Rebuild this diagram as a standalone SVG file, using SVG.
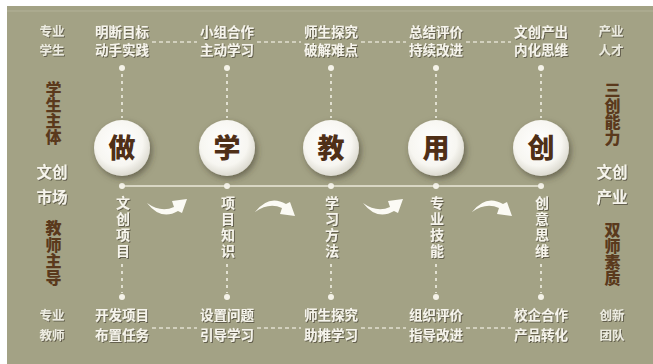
<svg xmlns="http://www.w3.org/2000/svg" width="653" height="364" viewBox="0 0 653 364">
<defs>
<style>
.t{font-family:"Liberation Sans","Noto Sans CJK SC",sans-serif;font-weight:bold;fill:#f6f4ec;text-anchor:middle;filter:url(#ts)}
.s{font-size:13.5px}
.side{font-size:12.5px;fill:#ecebe0}
.mid{font-size:15.5px}
.v{font-size:14px;writing-mode:vertical-rl;text-anchor:start;letter-spacing:2px}
.br{font-family:"Liberation Sans","Noto Sans CJK SC",sans-serif;font-weight:900;fill:#5a391c;font-size:16px;writing-mode:vertical-rl;text-anchor:start}
.ct{font-family:"Liberation Sans","Noto Sans CJK SC",sans-serif;font-weight:900;fill:#4f2f17;text-anchor:middle;font-size:27px}
.dv{stroke:#f1efe3;stroke-width:1.6;stroke-dasharray:3 4;fill:none}
.dh{stroke:#e2e0d0;stroke-width:1.3;stroke-dasharray:4 3;fill:none}
.dot{fill:#f4f2e8}
.arw{fill:#fbfaf4}
</style>
<filter id="ts" x="-20%" y="-30%" width="140%" height="160%">
<feDropShadow dx="1" dy="1" stdDeviation="0.6" flood-color="#2e2a1c" flood-opacity="0.55"/>
</filter>
<filter id="cs" x="-40%" y="-40%" width="180%" height="180%">
<feDropShadow dx="2" dy="3" stdDeviation="3" flood-color="#3b3826" flood-opacity="0.55"/>
</filter>
<radialGradient id="cg" cx="45%" cy="40%" r="60%">
<stop offset="0" stop-color="#ffffff"/>
<stop offset="0.7" stop-color="#f7f6f1"/>
<stop offset="1" stop-color="#dcdad0"/>
</radialGradient>
<path id="up" class="arw" d="M0,5 Q14,15 27,9 L25,3 L40,1 L35,15 L31,13 Q14,23 0,5 Z"/>
</defs>
<rect x="0" y="0" width="653" height="364" fill="#ffffff"/>
<rect x="7" y="6" width="646" height="358" fill="#a3a285"/>
<line x1="7" y1="11" x2="653" y2="11" stroke="#b3b298" stroke-width="1"/>

<g id="connectors">
<line x1="122" y1="186" x2="541" y2="186" stroke="#ebe9da" stroke-width="1.6"/>
<g class="dh">
<path d="M152,42 H197 M257,42 H301 M361,42 H406 M466,42 H511"/>
<path d="M152,328 H197 M257,328 H301 M361,328 H406 M466,328 H511"/>
</g>
<g class="dv">
<path d="M122,74 V118 M227,74 V118 M331,74 V118 M436,74 V118 M541,74 V118"/>
<path d="M122,264 V293 M227,264 V293 M331,264 V293 M436,264 V293 M541,264 V293"/>
</g>
<g>
<circle class="dot" cx="122" cy="68" r="3"/><circle class="dot" cx="227" cy="68" r="3"/><circle class="dot" cx="331" cy="68" r="3"/><circle class="dot" cx="436" cy="68" r="3"/><circle class="dot" cx="541" cy="68" r="3"/>
<circle class="dot" cx="122" cy="186" r="3"/><circle class="dot" cx="227" cy="186" r="3"/><circle class="dot" cx="331" cy="186" r="3"/><circle class="dot" cx="436" cy="186" r="3"/><circle class="dot" cx="541" cy="186" r="3"/>
<circle class="dot" cx="122" cy="297" r="3"/><circle class="dot" cx="227" cy="297" r="3"/><circle class="dot" cx="331" cy="297" r="3"/><circle class="dot" cx="436" cy="297" r="3"/><circle class="dot" cx="541" cy="297" r="3"/>
</g>
<use href="#up" transform="translate(147,198)"/>
<use href="#up" transform="translate(255,217) scale(1,-1)"/>
<use href="#up" transform="translate(363,198)"/>
<use href="#up" transform="translate(472,217) scale(1,-1)"/>
</g>

<g id="side-left">
<text class="t side" x="52" y="36">专业</text>
<text class="t side" x="52" y="55">学生</text>
<text class="br" x="52" y="81">学生主体</text>
<text class="t mid" x="52" y="178">文创</text>
<text class="t mid" x="52" y="203">市场</text>
<text class="br" x="52" y="220" style="letter-spacing:0.5px">教师主导</text>
<text class="t side" x="52" y="320">专业</text>
<text class="t side" x="52" y="340">教师</text>
</g>

<g id="side-right">
<text class="t side" x="611" y="36">产业</text>
<text class="t side" x="611" y="55">人才</text>
<text class="br" x="611" y="82">三创能力</text>
<text class="t mid" x="612" y="178">文创</text>
<text class="t mid" x="612" y="203">产业</text>
<text class="br" x="611" y="222">双师素质</text>
<text class="t side" x="612" y="320">创新</text>
<text class="t side" x="612" y="340">团队</text>
</g>

<g id="node-zuo">
<text class="t s" x="122" y="37">明断目标</text>
<text class="t s" x="122" y="55">动手实践</text>
<circle cx="122" cy="148" r="28" fill="url(#cg)" filter="url(#cs)"/>
<text class="ct" x="122" y="158">做</text>
<text class="t v" x="122" y="196">文创项目</text>
<text class="t s" x="122" y="320">开发项目</text>
<text class="t s" x="122" y="340">布置任务</text>
</g>

<g id="node-xue">
<text class="t s" x="227" y="37">小组合作</text>
<text class="t s" x="227" y="55">主动学习</text>
<circle cx="227" cy="148" r="28" fill="url(#cg)" filter="url(#cs)"/>
<text class="ct" x="227" y="158">学</text>
<text class="t v" x="227" y="196">项目知识</text>
<text class="t s" x="227" y="320">设置问题</text>
<text class="t s" x="227" y="340">引导学习</text>
</g>

<g id="node-jiao">
<text class="t s" x="331" y="37">师生探究</text>
<text class="t s" x="331" y="55">破解难点</text>
<circle cx="331" cy="148" r="28" fill="url(#cg)" filter="url(#cs)"/>
<text class="ct" x="331" y="158">教</text>
<text class="t v" x="331" y="196">学习方法</text>
<text class="t s" x="331" y="320">师生探究</text>
<text class="t s" x="331" y="340">助推学习</text>
</g>

<g id="node-yong">
<text class="t s" x="436" y="37">总结评价</text>
<text class="t s" x="436" y="55">持续改进</text>
<circle cx="436" cy="148" r="28" fill="url(#cg)" filter="url(#cs)"/>
<text class="ct" x="436" y="158">用</text>
<text class="t v" x="436" y="196">专业技能</text>
<text class="t s" x="436" y="320">组织评价</text>
<text class="t s" x="436" y="340">指导改进</text>
</g>

<g id="node-chuang">
<text class="t s" x="541" y="37">文创产出</text>
<text class="t s" x="541" y="55">内化思维</text>
<circle cx="541" cy="148" r="28" fill="url(#cg)" filter="url(#cs)"/>
<text class="ct" x="541" y="158">创</text>
<text class="t v" x="541" y="196">创意思维</text>
<text class="t s" x="541" y="320">校企合作</text>
<text class="t s" x="541" y="340">产品转化</text>
</g>
</svg>
